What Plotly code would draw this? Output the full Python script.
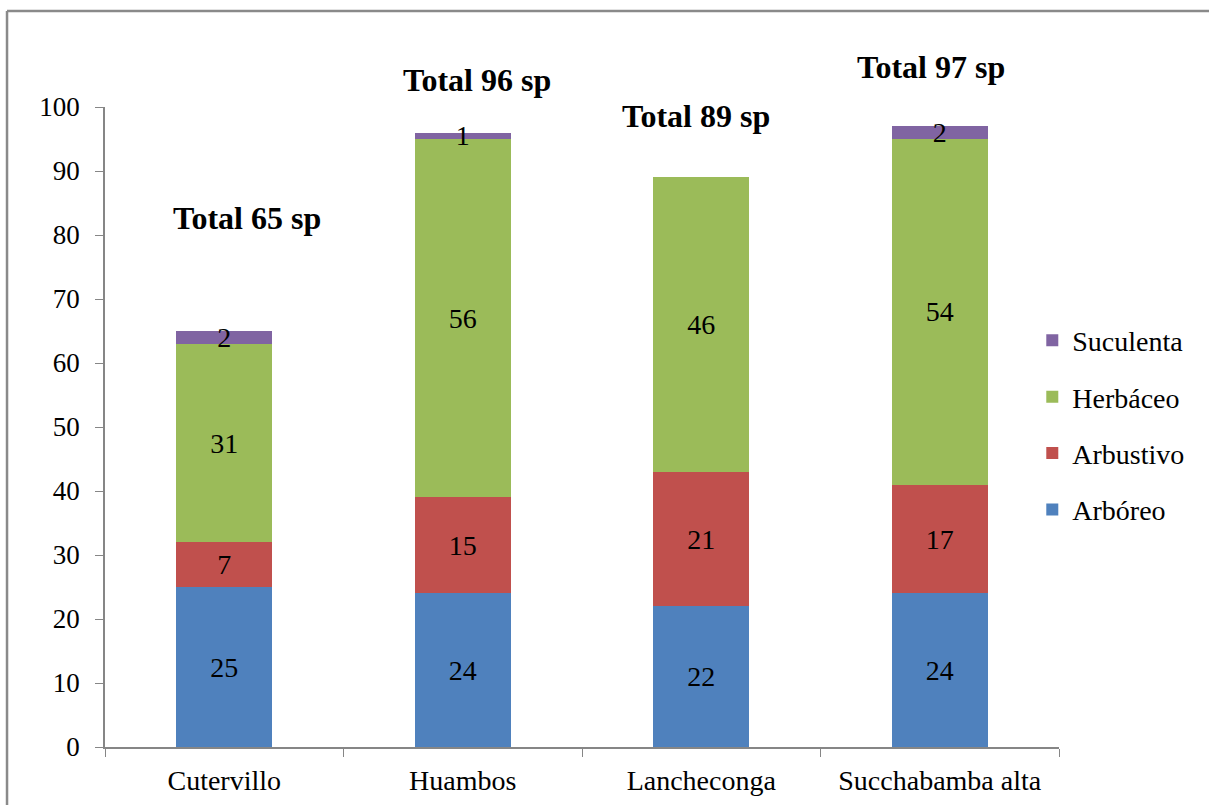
import plotly.graph_objects as go

# Species counts by growth form at each locality
localities = ["Cutervillo", "Huambos", "Lancheconga", "Succhabamba alta"]
arboreo = [25, 24, 22, 24]
arbustivo = [7, 15, 21, 17]
herbaceo = [31, 56, 46, 54]
suculenta = [2, 1, 0, 2]
totals = [65, 96, 89, 97]

# Hand-placed positions of the "Total" captions (category offset, y value)
total_dx = [0.095, 0.058, -0.022, -0.037]
total_y = [82.7, 104.2, 98.6, 106.3]

series = [
    ("Arbóreo", arboreo, "#4F81BD", 4),
    ("Arbustivo", arbustivo, "#C0504D", 3),
    ("Herbáceo", herbaceo, "#9BBB59", 2),
    ("Suculenta", suculenta, "#8064A2", 1),
]

FONT = "Liberation Serif, Times New Roman, serif"
Y_MAX = 100

fig = go.Figure()
for name, vals, color, rank in series:
    fig.add_trace(go.Bar(
        x=localities,
        y=vals,
        name=name,
        legendgroup=name,
        legendrank=rank,
        marker=dict(color=color, line=dict(width=0)),
        text=[str(v) if v > 0 else "" for v in vals],
        textposition="inside",
        insidetextanchor="middle",
        constraintext="none",
        textfont=dict(family=FONT, size=28, color="black"),
        textangle=0,
        hoverinfo="skip",
    ))

# Captions sit above the value axis range, so place them in paper units
for i, (loc, tot) in enumerate(zip(localities, totals)):
    fig.add_annotation(
        x=i + total_dx[i], y=total_y[i] / Y_MAX, xref="x", yref="paper",
        xanchor="center", yanchor="middle",
        text=f"<b>Total {tot} sp</b>",
        showarrow=False,
        font=dict(family=FONT, size=32, color="black"),
    )

# Chart frame: top and left edges (the rest runs off the page)
frame = dict(color="#8a8a8a", width=2.5)
fig.add_shape(type="line", xref="paper", yref="paper",
              x0=-0.1027, x1=1.25, y0=1.150, y1=1.150, line=frame)
fig.add_shape(type="line", xref="paper", yref="paper",
              x0=-0.1027, x1=-0.1027, y0=-0.25, y1=1.150, line=frame)

fig.update_layout(
    width=1209, height=805,
    margin=dict(l=105, r=150, t=107, b=58, autoexpand=False),
    barmode="stack",
    bargap=0.597,
    plot_bgcolor="white",
    paper_bgcolor="white",
    font=dict(family=FONT, size=28, color="black"),
    showlegend=True,
    legend=dict(
        x=0.972, y=0.503, xanchor="left", yanchor="middle",
        traceorder="grouped",
        tracegroupgap=17,
        font=dict(family=FONT, size=28, color="black"),
        itemwidth=30,
        bgcolor="rgba(0,0,0,0)",
    ),
)

fig.update_xaxes(
    type="category", automargin=False,
    showline=True, linecolor="#868686", linewidth=1.5,
    ticks="outside", tickson="boundaries", ticklen=8, tickcolor="#868686",
    ticklabelstandoff=8,
    showgrid=False, zeroline=False,
    tickfont=dict(family=FONT, size=28, color="black"),
)
fig.update_yaxes(
    range=[0, Y_MAX], dtick=10, automargin=False,
    showline=True, linecolor="#868686", linewidth=1.5,
    ticks="outside", ticklen=8, tickcolor="#868686",
    ticklabelstandoff=10,
    showgrid=False, zeroline=False,
    tickfont=dict(family=FONT, size=27, color="black"),
)

fig.write_html("out.html")
